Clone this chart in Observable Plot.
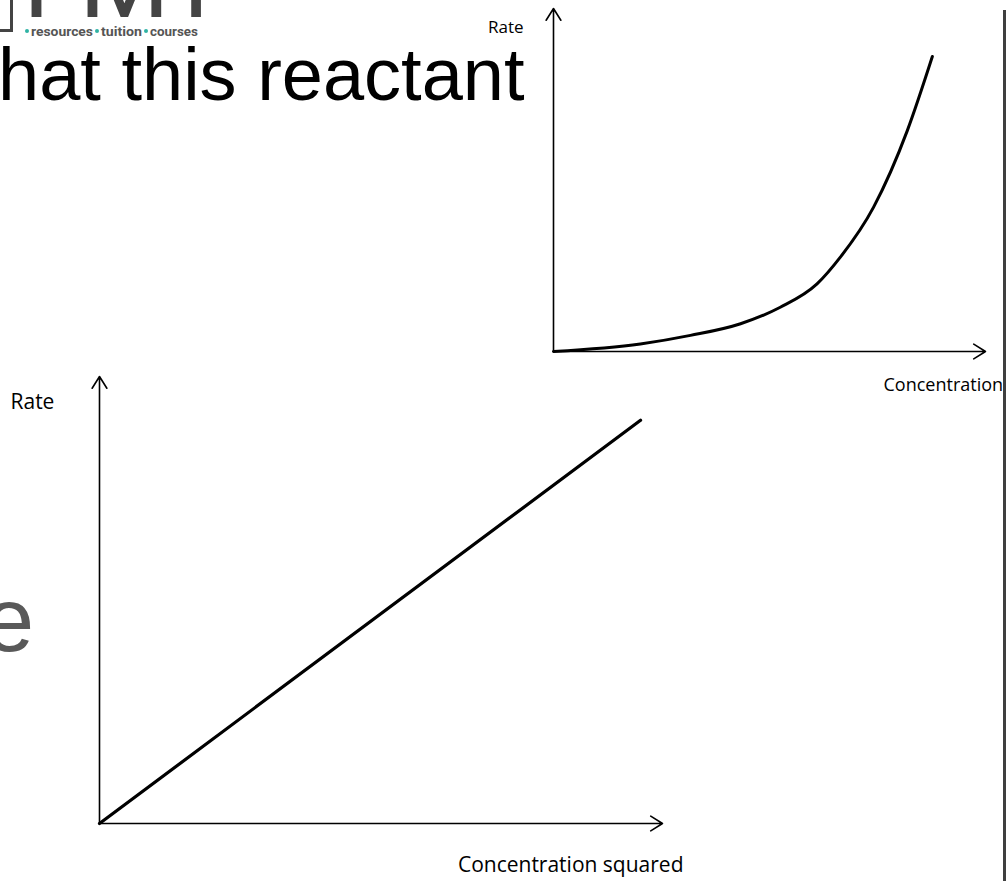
<!DOCTYPE html>
<html>
<head>
<meta charset="utf-8">
<style>
  html, body { margin: 0; padding: 0; background: #fff; }
  body { width: 1006px; height: 881px; position: relative; overflow: hidden; }
  .abs { position: absolute; }
</style>
<script src="https://cdn.jsdelivr.net/npm/d3@7"></script>
<script src="https://cdn.jsdelivr.net/npm/@observablehq/plot@0.6"></script>
</head>
<body>
<svg class="abs" style="left:0;top:0" width="1006" height="881" xmlns="http://www.w3.org/2000/svg">
  <!-- logo (cut off at top of slide) -->
  <rect x="-20" y="-10" width="31.5" height="40.5" fill="none" stroke="#444" stroke-width="3"/>
  <g font-family="Roboto" font-size="104" fill="#444">
    <text x="23" y="17">P</text>
    <text x="79" y="17">M</text>
    <text x="165" y="17">T</text>
  </g>
  <g font-family="Roboto" font-weight="700" font-size="13.5" fill="#555">
    <circle cx="27" cy="31" r="2" fill="#2fb3a4"/>
    <text x="31" y="35.5" textLength="62" lengthAdjust="spacingAndGlyphs">resources</text>
    <circle cx="97" cy="31" r="2" fill="#2fb3a4"/>
    <text x="101" y="35.5" textLength="41" lengthAdjust="spacingAndGlyphs">tuition</text>
    <circle cx="146" cy="31" r="2" fill="#2fb3a4"/>
    <text x="150" y="35.5" textLength="48" lengthAdjust="spacingAndGlyphs">courses</text>
  </g>
  <!-- slide text partly hidden behind the graphs -->
  <text x="-2" y="100" font-family="Liberation Sans, Arial, sans-serif" font-size="74" fill="#000">hat this reactant</text>
  <text x="-16" y="651" font-family="Liberation Sans, Arial, sans-serif" font-size="90" fill="#595959">e</text>
</svg>
<div id="top" class="abs" style="left:440px;top:0px"></div>
<div id="bottom" class="abs" style="left:0px;top:360px"></div>
<div class="abs" style="left:1003px;top:10px;width:3px;height:871px;background:#3f3f3f"></div>
<script>
// ---- top graph: rate vs concentration (curved) ----
const topConc = [0, 2.01, 3.17, 4.33, 5.25, 6.10, 6.64, 7.41, 8.19, 8.77];
const topRate = [0, 0.22, 0.47, 0.81, 1.29, 1.97, 2.75, 4.21, 6.44, 8.60];
const topYLabel = "Rate";
const topXLabel = "Concentration";

// ---- bottom graph: rate vs concentration squared (straight) ----
const botConcSq = [0, 9.61];
const botRate = [0, 9.02];
const botYLabel = "Rate";
const botXLabel = "Concentration squared";

// axis arrows (in data units)
const axisX = [{x1: 0, y1: 0, x2: 10, y2: 0}];
const axisY = [{x1: 0, y1: 0, x2: 0, y2: 10}];

const topData = topConc.map((c, i) => ({c, r: topRate[i]}));
const botData = botConcSq.map((c, i) => ({c, r: botRate[i]}));

const arrowOpts = {x1: "x1", y1: "y1", x2: "x2", y2: "y2", stroke: "black", strokeWidth: 1.6, headLength: 13, headAngle: 64};

const topChart = Plot.plot({
  width: 566, height: 400,
  marginLeft: 113, marginRight: 21, marginTop: 8, marginBottom: 49,
  x: {domain: [0, 10], axis: null},
  y: {domain: [0, 10], axis: null},
  style: {background: "transparent", overflow: "visible", fontFamily: "Open Sans"},
  marks: [
    Plot.arrow(axisX, arrowOpts),
    Plot.arrow(axisY, arrowOpts),
    Plot.line(topData, {x: "c", y: "r", curve: "monotone-x", stroke: "black", strokeWidth: 3}),
    Plot.text([topYLabel], {text: d => d, frameAnchor: "top-left", textAnchor: "end", lineAnchor: "middle", dx: -30, dy: 19, fontSize: 17, fill: "black"}),
    Plot.text([topXLabel], {text: d => d, frameAnchor: "bottom-right", textAnchor: "start", lineAnchor: "middle", dx: -102, dy: 34, fontSize: 18, fill: "black"})
  ]
});
document.getElementById("top").appendChild(topChart);

const botChart = Plot.plot({
  width: 720, height: 521,
  marginLeft: 99, marginRight: 58, marginTop: 16, marginBottom: 58,
  x: {domain: [0, 10], axis: null},
  y: {domain: [0, 10], axis: null},
  style: {background: "transparent", overflow: "visible", fontFamily: "Open Sans"},
  marks: [
    Plot.arrow(axisX, arrowOpts),
    Plot.arrow(axisY, arrowOpts),
    Plot.line(botData, {x: "c", y: "r", stroke: "black", strokeWidth: 3.2}),
    Plot.text([botYLabel], {text: d => d, frameAnchor: "top-left", textAnchor: "start", lineAnchor: "middle", dx: -89, dy: 26, fontSize: 21, fill: "black"}),
    Plot.text([botXLabel], {text: d => d, frameAnchor: "bottom-right", textAnchor: "end", lineAnchor: "middle", dx: 21, dy: 42, fontSize: 21, fill: "black"})
  ]
});
document.getElementById("bottom").appendChild(botChart);
</script>
</body>
</html>
